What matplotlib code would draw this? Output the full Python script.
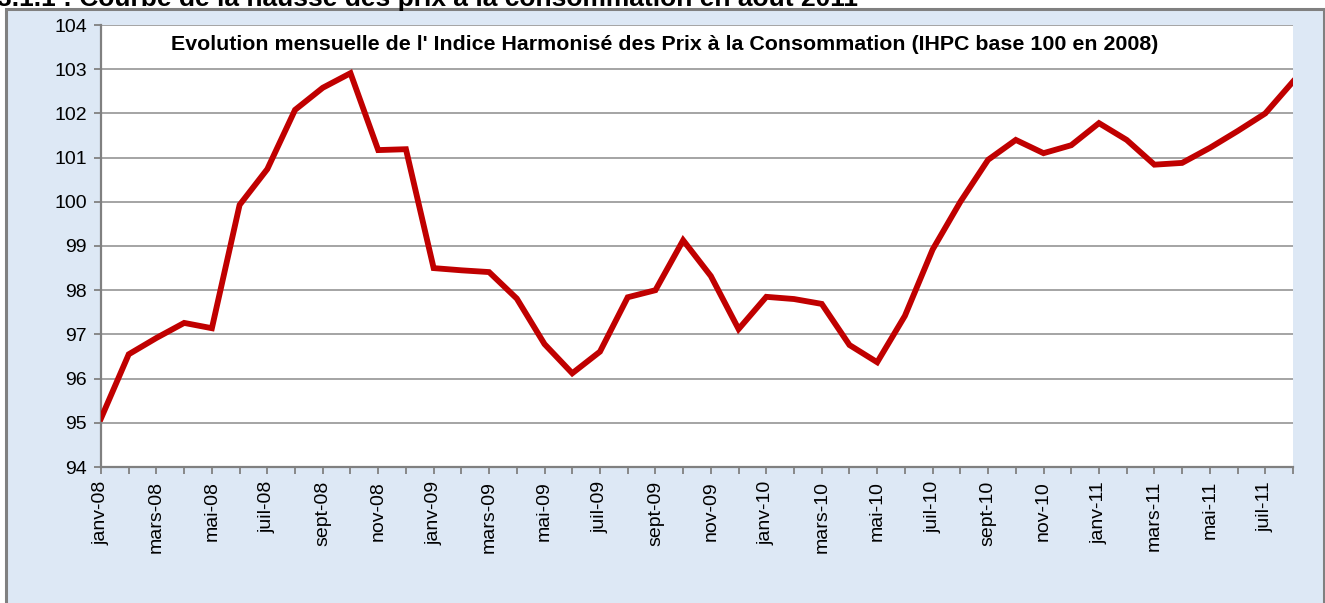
#!/usr/bin/env python3
"""
plot.py
- Courbe mensuelle de l'IHPC (base 100 en 2008), janv-08 a aout-11
"""

import numpy as np
import matplotlib
matplotlib.use("Agg")
import matplotlib.pyplot as plt
from matplotlib.patches import Rectangle

plt.rcParams["font.family"] = ["Liberation Sans", "DejaVu Sans"]

# donnees
mois_noms = ["janv", "févr", "mars", "avr", "mai", "juin",
             "juil", "août", "sept", "oct", "nov", "déc"]
annees = ["08", "09", "10", "11"]
mois = [f"{m}-{a}" for a in annees for m in mois_noms][:44]

ihpc = [95.10, 96.55, 96.92, 97.26, 97.14, 99.93, 100.74, 102.08, 102.58, 102.91,
        101.17, 101.19, 98.50, 98.45, 98.41, 97.81, 96.78, 96.12, 96.61, 97.84,
        98.00, 99.13, 98.32, 97.12, 97.85, 97.80, 97.69, 96.76, 96.37, 97.42,
        98.92, 100.00, 100.95, 101.40, 101.10, 101.28, 101.78, 101.40, 100.84, 100.88,
        101.22, 101.60, 102.00, 102.72]

titre_doc = "3.1.1 : Courbe de la hausse des prix à la consommation en août 2011"
titre = "Evolution mensuelle de l' Indice Harmonisé des Prix à la Consommation (IHPC base 100 en 2008)"

W, H = 1325, 603
fig = plt.figure(figsize=(W / 100, H / 100), dpi=100)
fig.patch.set_facecolor("white")

# cadre du graphique (fond bleu clair)
fig.patches.append(Rectangle((6 / W, -0.05), (1324 - 6) / W, (H - 9) / H + 0.05,
                             transform=fig.transFigure, facecolor="#dde8f5",
                             edgecolor="#808080", linewidth=2.2, zorder=-10))

fig.text(-0.002, 1 - 6 / H, titre_doc, fontsize=19, fontweight="bold",
         ha="left", va="baseline")

ax = fig.add_axes([101 / W, 1 - 467 / H, (1293 - 101) / W, (467 - 25) / H])
ax.set_facecolor("white")

x = np.arange(len(ihpc))
ax.plot(x, ihpc, color="#c00000", linewidth=4.2, solid_joinstyle="miter", zorder=3)

ax.set_xlim(0, len(ihpc) - 1)
ax.set_ylim(94, 104)
ax.set_yticks(range(94, 105))
ax.set_xticks(x[::2])
ax.set_xticklabels(mois[::2], rotation=90, va="top", ha="center")
ax.set_xticks(x[1::2], minor=True)

ax.grid(axis="y", color="#8c8c8c", linewidth=1.1)
ax.grid(axis="x", visible=False)
ax.set_axisbelow(True)

for s in ["top", "right"]:
    ax.spines[s].set_visible(False)
for s in ["left", "bottom"]:
    ax.spines[s].set_color("#808080")
    ax.spines[s].set_linewidth(1.6)

ax.tick_params(axis="both", which="both", color="#808080", width=1.3, length=5,
               labelsize=14, labelcolor="black")
ax.tick_params(axis="x", which="both", pad=5)
ax.tick_params(axis="y", pad=5)

fig.text(665 / W, 1 - 44 / H, titre, fontsize=15.4, fontweight="bold",
         ha="center", va="center")

fig.savefig("out.png", dpi=100)
